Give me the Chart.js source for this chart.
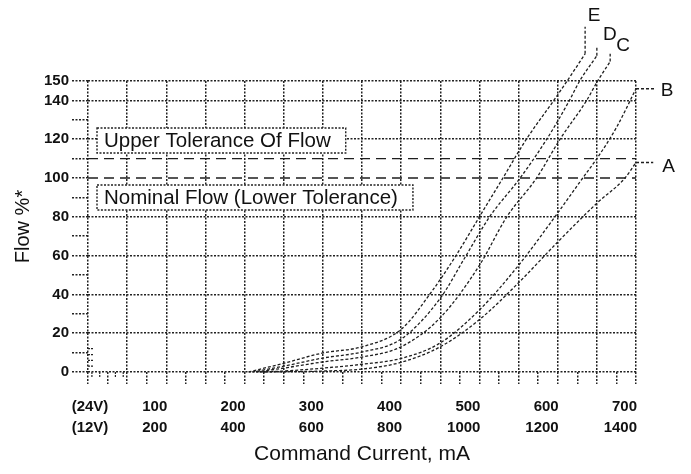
<!DOCTYPE html>
<html>
<head>
<meta charset="utf-8">
<script src="https://cdn.jsdelivr.net/npm/chart.js@4.4.0/dist/chart.umd.min.js"></script>
<style>
  html, body { margin: 0; padding: 0; background: #fff; }
</style>
</head>
<body>
<canvas id="chart" width="691" height="474"></canvas>
<script>
// curve data (current in mA at 24V, flow in %)
const seriesNames = ['A', 'B', 'C', 'D', 'E'];
const aCurrent = [225, 300, 350, 400, 450, 500, 550, 600, 650, 686, 700];
const aFlow    = [0, 0.5, 1.5, 5, 13, 27, 46, 67, 87, 100, 108];
const bCurrent = [220, 250, 300, 350, 400, 450, 500, 550, 600, 632, 650, 675, 700];
const bFlow    = [0, 0.5, 2, 4, 7, 15, 32, 55, 82, 100, 110, 126, 146];
const cCurrent = [215, 250, 300, 350, 400, 450, 500, 535, 573, 603, 637, 651, 667];
const cFlow    = [0, 2, 5.2, 7.7, 13, 28, 55, 80, 100, 120, 140, 150, 160];
const dCurrent = [210, 250, 300, 350, 400, 450, 480, 513, 552, 586, 615, 628, 650];
const dFlow    = [0, 3, 7.2, 10.3, 17, 38, 58, 80, 100, 120, 140, 150, 163];
const eCurrent = [205, 250, 300, 350, 400, 440, 470, 500, 530, 560, 595, 612, 635];
const eFlow    = [0, 4.5, 9.8, 13, 22, 42, 60, 80, 100, 120, 140, 150, 164];
// where each curve's leader line ends (A..E)
const leaderCurrent = [722, 724, 667, 650, 635];
const leaderFlow    = [108, 146, 164, 168, 178];

const upperTolerance = 110;
const nominalFlow = 100;

const xTickValues = [0, 100, 200, 300, 400, 500, 600, 700];
const xLabels24V = ['(24V)', '100', '200', '300', '400', '500', '600', '700'];
const xLabels12V = ['(12V)', '200', '400', '600', '800', '1000', '1200', '1400'];
const xMarkValues = [0, 25, 50, 75, 100, 125, 150, 175, 200, 225, 250, 275, 300, 325, 350,
  375, 400, 425, 450, 475, 500, 525, 550, 575, 600, 625, 650, 675, 700];
const yMarkValues = [0, 10, 20, 30, 40, 50, 60, 70, 80, 90, 100, 110, 120, 130, 140, 150];
const yLabelValues = [0, 20, 40, 60, 80, 100, 120, 140, 150];
const yGridValues = [0, 20, 40, 60, 80, 120, 140, 150];
const xBreakTicks = [5, 15, 35, 45];
const yBreakTicks = [3, 6, 9, 12];

const FONT = '"Liberation Sans", Arial, sans-serif';
const INK = '#111';
const GRID = '#222';
const LINE = '#1e1e1e';

const curves = [[aCurrent, aFlow], [bCurrent, bFlow], [cCurrent, cFlow], [dCurrent, dFlow], [eCurrent, eFlow]];
const toPoints = (xs, ys) => xs.map((x, i) => ({ x: x, y: ys[i] }));

const datasets = [];
curves.forEach(([xs, ys], i) => {
  datasets.push({
    label: seriesNames[i],
    data: toPoints(xs, ys),
    borderColor: LINE,
    borderWidth: 1.3,
    borderDash: [3, 2],
    pointRadius: 0,
    cubicInterpolationMode: 'monotone',
    clip: false
  });
  const last = xs.length - 1;
  datasets.push({
    label: seriesNames[i] + ' leader',
    data: [{ x: xs[last], y: ys[last] }, { x: leaderCurrent[i], y: leaderFlow[i] }],
    borderColor: LINE,
    borderWidth: 1.3,
    borderDash: [3, 2],
    pointRadius: 0,
    clip: false,
    tag: seriesNames[i]
  });
});
[upperTolerance, nominalFlow].forEach(v => {
  datasets.push({
    label: 'tol ' + v,
    data: [{ x: 0, y: v }, { x: 700, y: v }],
    borderColor: LINE,
    borderWidth: 1.3,
    borderDash: [10, 6],
    pointRadius: 0
  });
});

const extras = {
  id: 'extras',
  afterDatasetsDraw(chart) {
    const { ctx, chartArea, scales: { x, y } } = chart;
    ctx.save();

    // little break ticks near the origin
    ctx.strokeStyle = GRID;
    ctx.lineWidth = 1.2;
    ctx.setLineDash([2, 1]);
    xBreakTicks.forEach(v => {
      const px = x.getPixelForValue(v);
      ctx.beginPath(); ctx.moveTo(px, chartArea.bottom); ctx.lineTo(px, chartArea.bottom + 6); ctx.stroke();
    });
    yBreakTicks.forEach(v => {
      const py = y.getPixelForValue(v);
      ctx.beginPath(); ctx.moveTo(chartArea.left, py); ctx.lineTo(chartArea.left + 6, py); ctx.stroke();
    });

    // two-row x labels
    ctx.setLineDash([]);
    ctx.fillStyle = INK;
    ctx.font = 'bold 15px ' + FONT;
    ctx.textBaseline = 'middle';
    xTickValues.forEach((v, i) => {
      const px = x.getPixelForValue(v);
      ctx.textAlign = v === 0 ? 'center' : 'right';
      ctx.fillText(xLabels24V[i], px + (v === 0 ? 2 : 1), chartArea.bottom + 35);
      ctx.fillText(xLabels12V[i], px + (v === 0 ? 2 : 1), chartArea.bottom + 56);
    });

    // boxed notes
    const boxes = [
      { text: 'Upper Tolerance Of Flow', x0: 11.5, top: 125.8, bottom: 112.9 },
      { text: 'Nominal Flow (Lower Tolerance)', x0: 11.5, top: 96.4, bottom: 83.5 }
    ];
    ctx.font = '20.5px ' + FONT;
    boxes.forEach(b => {
      const left = x.getPixelForValue(b.x0);
      const top = y.getPixelForValue(b.top);
      const bottom = y.getPixelForValue(b.bottom);
      const w = ctx.measureText(b.text).width + 22;
      ctx.fillStyle = '#fff';
      ctx.fillRect(left, top, w, bottom - top);
      ctx.strokeStyle = GRID;
      ctx.lineWidth = 1.4;
      ctx.setLineDash([2, 1.5]);
      ctx.strokeRect(left, top, w, bottom - top);
      ctx.setLineDash([]);
      ctx.fillStyle = INK;
      ctx.textAlign = 'left';
      ctx.fillText(b.text, left + 7, (top + bottom) / 2 + 1);
    });

    // curve letters at the leader ends
    const offsets = { A: [9, 4, 'left'], B: [6, 2, 'left'], C: [13, -8, 'center'], D: [13, -11, 'center'], E: [9, -11, 'center'] };
    ctx.font = '19px ' + FONT;
    chart.data.datasets.forEach((ds, i) => {
      if (!ds.tag) return;
      const pt = chart.getDatasetMeta(i).data[1];
      const o = offsets[ds.tag];
      ctx.textAlign = o[2];
      ctx.fillText(ds.tag, pt.x + o[0], pt.y + o[1]);
    });
    ctx.restore();
  }
};

new Chart(document.getElementById('chart'), {
  type: 'line',
  data: { datasets: datasets },
  options: {
    responsive: false,
    animation: false,
    layout: { padding: { left: 0, right: 55, top: 81, bottom: 0 } },
    plugins: { legend: { display: false }, tooltip: { enabled: false } },
    scales: {
      x: {
        type: 'linear',
        min: 0,
        max: 700,
        afterFit: s => { s.height = 102; },
        afterBuildTicks: s => { s.ticks = xMarkValues.map(v => ({ value: v })); },
        ticks: { display: false, autoSkip: false },
        grid: {
          color: ctx => (ctx.tick && ctx.tick.value % 50 === 0) ? GRID : 'transparent',
          lineWidth: 1.5,
          tickLength: 12,
          tickColor: GRID,
          tickWidth: 1.5,
          tickBorderDash: [2, 1.5]
        },
        border: { display: false, dash: [2, 1.5] },
        title: { display: true, text: 'Command Current, mA', color: INK, font: { family: FONT, size: 21 }, padding: { bottom: 7 } }
      },
      y: {
        min: 0,
        max: 150,
        afterFit: s => { s.width = 88; },
        afterBuildTicks: s => { s.ticks = yMarkValues.map(v => ({ value: v })); },
        ticks: {
          autoSkip: false,
          callback: v => yLabelValues.includes(v) ? v : '',
          color: INK,
          font: { family: FONT, size: 15, weight: 'bold' },
          padding: 3
        },
        grid: {
          color: ctx => (ctx.tick && yGridValues.includes(ctx.tick.value)) ? GRID : 'transparent',
          lineWidth: 1.5,
          tickLength: 16,
          tickColor: GRID,
          tickWidth: 1.5,
          tickBorderDash: [2, 1.5]
        },
        border: { display: false, dash: [2, 1.5] },
        title: { display: true, text: 'Flow %*', color: INK, font: { family: FONT, size: 20 }, padding: { top: 11 } }
      }
    }
  },
  plugins: [extras]
});
</script>
</body>
</html>
